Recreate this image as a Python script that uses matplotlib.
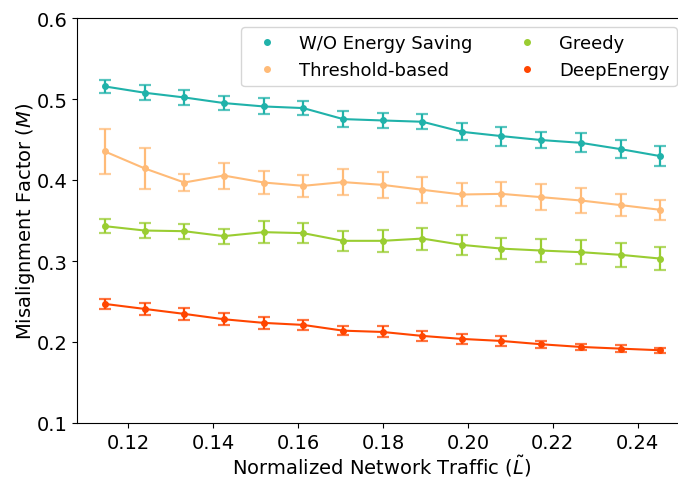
import matplotlib
matplotlib.use("Agg")
import matplotlib.pyplot as plt
from matplotlib.lines import Line2D

# Normalized network traffic levels
traffic = [0.1145, 0.1239, 0.1332, 0.1425, 0.1519, 0.1612, 0.1706, 0.1799,
           0.1893, 0.1986, 0.2079, 0.2173, 0.2266, 0.2360, 0.2453]

# Misalignment factor (mean) per scheme
wo_saving = [0.5155, 0.5077, 0.5019, 0.4950, 0.4908, 0.4888, 0.4752, 0.4735,
             0.4719, 0.4595, 0.4542, 0.4493, 0.4459, 0.4381, 0.4295]
threshold = [0.4352, 0.4142, 0.3969, 0.4055, 0.3969, 0.3928, 0.3974, 0.3940,
             0.3879, 0.3821, 0.3829, 0.3788, 0.3747, 0.3690, 0.3632]
greedy = [0.3430, 0.3376, 0.3368, 0.3307, 0.3356, 0.3344, 0.3249, 0.3249,
          0.3277, 0.3199, 0.3153, 0.3129, 0.3109, 0.3076, 0.3030]
deepenergy = [0.2470, 0.2408, 0.2347, 0.2281, 0.2236, 0.2211, 0.2140, 0.2124,
              0.2075, 0.2038, 0.2013, 0.1972, 0.1939, 0.1918, 0.1898]

# Error bar half-widths
wo_saving_err = [0.0085, 0.0093, 0.0090, 0.0087, 0.0099, 0.0089, 0.0097, 0.0095,
                 0.0095, 0.0105, 0.0117, 0.0099, 0.0119, 0.0111, 0.0126]
threshold_err = [0.0272, 0.0251, 0.0101, 0.0161, 0.0140, 0.0136, 0.0156, 0.0160,
                 0.0160, 0.0140, 0.0144, 0.0158, 0.0158, 0.0140, 0.0124]
greedy_err = [0.0086, 0.0089, 0.0093, 0.0091, 0.0136, 0.0124, 0.0124, 0.0136,
              0.0136, 0.0128, 0.0126, 0.0142, 0.0150, 0.0146, 0.0142]
deepenergy_err = [0.0062, 0.0070, 0.0074, 0.0072, 0.0078, 0.0058, 0.0054, 0.0068,
                  0.0058, 0.0060, 0.0058, 0.0041, 0.0037, 0.0041, 0.0033]

labels = ["W/O Energy Saving", "Threshold-based", "Greedy", "DeepEnergy"]
colors = ["#20B2AA", "#FFBB78", "#9ACD32", "#FF4500"]
series = [wo_saving, threshold, greedy, deepenergy]
errors = [wo_saving_err, threshold_err, greedy_err, deepenergy_err]

W, H = 678, 481
fig = plt.figure(figsize=(W / 100, H / 100), dpi=100)
ax = fig.add_axes([77 / W, (H - 424) / H, (686 - 77) / W, (424 - 19) / H])

for ys, es, c in zip(series, errors, colors):
    _, caps, bars = ax.errorbar(traffic, ys, yerr=es, fmt="o-", color=c,
                                ms=4, lw=1.5, elinewidth=1.6,
                                capsize=4, capthick=1.6)
    for cap in caps:
        cap.set_alpha(0.75)

ax.set_xlim(0.10792, 0.25138)
ax.set_ylim(0.1, 0.6)
ax.set_xticks([0.12, 0.14, 0.16, 0.18, 0.20, 0.22, 0.24])
ax.set_xticklabels(["0.12", "0.14", "0.16", "0.18", "0.20", "0.22", "0.24"])
ax.set_yticks([0.1, 0.2, 0.3, 0.4, 0.5, 0.6])
ax.tick_params(labelsize=14)
ax.set_xlabel(r"Normalized Network Traffic ($\tilde{L}$)", fontsize=14,
              labelpad=0.5)
ax.set_ylabel(r"Misalignment Factor ($M$)", fontsize=14, labelpad=-0.5)

handles = [Line2D([], [], marker="o", ls="none", color=c, ms=4) for c in colors]
fig.legend(handles, labels,
           ncol=2, fontsize=13, loc="upper right",
           bbox_to_anchor=(677 / W, (H - 28) / H), borderaxespad=0,
           columnspacing=2.0)

fig.savefig("out.png", dpi=100)
